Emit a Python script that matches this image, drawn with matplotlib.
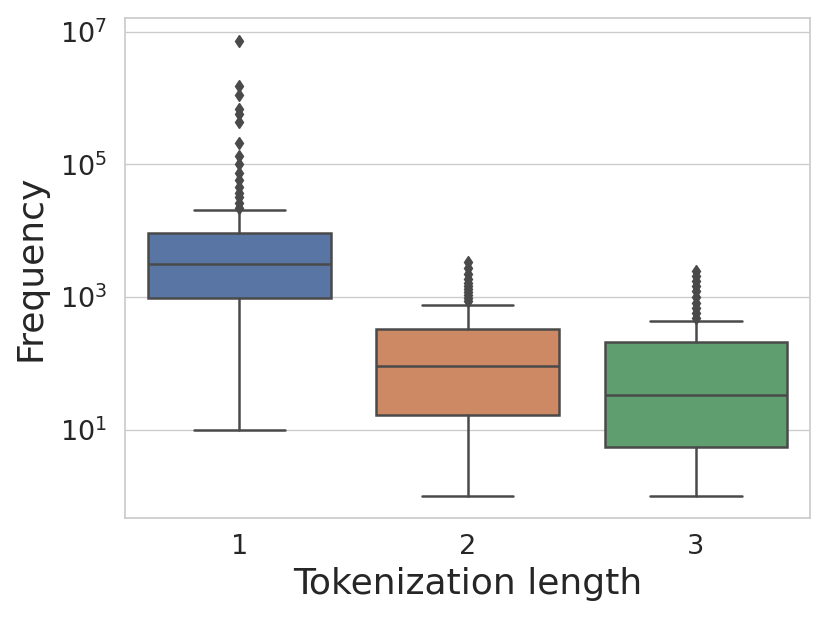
"""Boxplot of token frequency by tokenization length."""
import matplotlib
matplotlib.use("Agg")
import matplotlib.pyplot as plt
import seaborn as sns

# %% Data (box statistics)
lengths = ["1", "2", "3"]
medians = [3160, 91, 33.5]
q1s = [980, 16.6, 5.5]
q3s = [9300, 330, 210]
whis_low = [10, 1, 1]
whis_high = [20600, 760, 437]
fliers_1 = [7.3e6, 1.54e6, 1.12e6, 6.9e5, 5.7e5, 4.3e5, 2.1e5, 1.35e5, 1.0e5,
            7.4e4, 5.8e4, 4.6e4, 3.7e4, 3.2e4, 2.6e4, 2.2e4]
fliers_2 = [3400, 2750, 2240, 1880, 1640, 1480, 1330, 1200, 1080, 980, 880]
fliers_3 = [2480, 2090, 1760, 1480, 1240, 1000, 815, 690, 580, 485]
box_colors = ["#5975a4", "#cc8963", "#5f9e6e"]

# %% Plot
sns.set_theme(style="whitegrid")
plt.rcParams["font.family"] = ["DejaVu Sans"]

fig = plt.figure(figsize=(8.3, 6.23), dpi=100)
ax = fig.add_axes([0.151, 0.169, 0.825, 0.802])

stats = []
for lab, med, lo, hi, wl, wh, fl in zip(lengths, medians, q1s, q3s, whis_low,
                                        whis_high, [fliers_1, fliers_2, fliers_3]):
    stats.append(dict(label=lab, med=med, q1=lo, q3=hi, whislo=wl,
                      whishi=wh, fliers=fl))

line_col = "#4a4a4a"
lw = 1.8
bp = ax.bxp(
    stats,
    positions=[0, 1, 2],
    widths=0.8,
    patch_artist=True,
    boxprops=dict(edgecolor=line_col, linewidth=lw),
    medianprops=dict(color=line_col, linewidth=lw),
    whiskerprops=dict(color=line_col, linewidth=lw),
    capprops=dict(color=line_col, linewidth=lw),
    flierprops=dict(marker="d", markerfacecolor=line_col,
                    markeredgecolor=line_col, markersize=6.5),
)
for patch, col in zip(bp["boxes"], box_colors):
    patch.set_facecolor(col)

ax.set_yscale("log")
ax.set_ylim(0.47, 1.6e7)
ax.set_xlim(-0.5, 2.5)
ax.set_yticks([10, 1e3, 1e5, 1e7])
ax.minorticks_off()
ax.xaxis.grid(False)
ax.tick_params(axis="y", labelsize=19.5, pad=7)
ax.tick_params(axis="x", labelsize=19.5, pad=6)
ax.set_xlabel("Tokenization length", fontsize=26, labelpad=5)
ax.set_ylabel("Frequency", fontsize=26, labelpad=9)

fig.savefig("out.png", dpi=100)
